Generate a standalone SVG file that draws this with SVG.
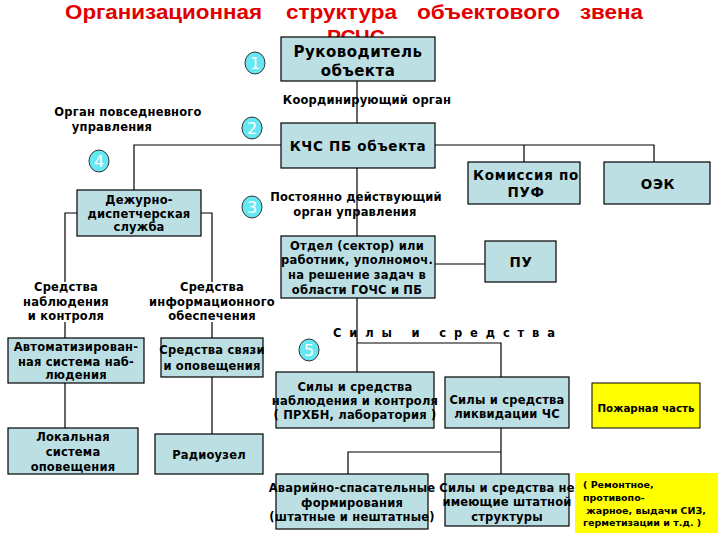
<svg xmlns="http://www.w3.org/2000/svg" width="720" height="540" viewBox="0 0 720 540">
<style>
.bx{fill:#bbdfe3;stroke:#000;stroke-width:1.2}
.yb{fill:#ffff00;stroke:#000;stroke-width:1}
.t{font-family:"DejaVu Sans",Verdana,sans-serif;font-weight:bold;font-size:11.5px;letter-spacing:0.2px;fill:#000;text-anchor:middle}
.big{font-size:15px;letter-spacing:0.5px}
.mid{font-size:13.5px;letter-spacing:0.7px}
.ln{fill:none;stroke:#000;stroke-width:1.2}
.c{fill:#66e8f2;stroke:#333;stroke-width:1}
.n{font-family:"DejaVu Sans",sans-serif;font-size:16px;fill:#fff;text-anchor:middle}
.title{font-family:"Liberation Sans",Arial,sans-serif;font-weight:bold;font-size:21px;fill:#e00000}
.sm{font-family:"DejaVu Sans",Tahoma,sans-serif;font-weight:bold;font-size:9.5px;fill:#000}
</style>
<rect width="720" height="540" fill="#fff"/>
<g id="title">
<text class="title" x="65" y="19" textLength="197" lengthAdjust="spacingAndGlyphs">Организационная</text>
<text class="title" x="286" y="19" textLength="111" lengthAdjust="spacingAndGlyphs">структура</text>
<text class="title" x="417" y="19" textLength="143" lengthAdjust="spacingAndGlyphs">объектового</text>
<text class="title" x="580" y="19" textLength="63" lengthAdjust="spacingAndGlyphs">звена</text>
<text class="title" x="356" y="44" text-anchor="middle">РСЧС</text>
</g>
<g id="connectors">
<path class="ln" d="M357 81V123"/>
<path class="ln" d="M281 145H134V190"/>
<path class="ln" d="M435 145H654V162M524 145V162"/>
<path class="ln" d="M357 168V236"/>
<path class="ln" d="M77 213H65V282M65 322V338"/>
<path class="ln" d="M201 213H212V282M212 322V338"/>
<path class="ln" d="M65 383V428"/>
<path class="ln" d="M212 377V434"/>
<path class="ln" d="M435 264H485"/>
<path class="ln" d="M357 298V343H501V377M357 343V372"/>
<path class="ln" d="M501 428V452H348V474M501 452V474"/>
</g>
<g id="labels">
<text class="t" x="367" y="104">Координирующий орган</text>
<text class="t" x="128" y="116">Орган повседневного</text>
<text class="t" x="112" y="131">управления</text>
<text class="t" x="356" y="201">Постоянно действующий</text>
<text class="t" x="355" y="216">орган управления</text>
<text class="t" x="66" y="291">Средства</text>
<text class="t" x="66" y="306">наблюдения</text>
<text class="t" x="66" y="320">и контроля</text>
<text class="t" x="212" y="291">Средства</text>
<text class="t" x="212" y="306">информационного</text>
<text class="t" x="212" y="320">обеспечения</text>
<text class="t" x="333" y="337" style="text-anchor:start;letter-spacing:0" xml:space="preserve" textLength="222" lengthAdjust="spacing">С и л ы   и   с р е д с т в а</text>
</g>
<g id="n1"><rect class="bx" x="281" y="37" width="154" height="44"/><text class="t big" x="358" y="57">Руководитель</text><text class="t big" x="358" y="76">объекта</text></g>
<g id="n2"><rect class="bx" x="281" y="123" width="154" height="45"/><text class="t mid" x="358" y="151">КЧС ПБ объекта</text></g>
<g id="n3"><rect class="bx" x="468" y="162" width="112" height="42"/><text class="t mid" x="526" y="180">Комиссия по</text><text class="t mid" x="526" y="197">ПУФ</text></g>
<g id="n4"><rect class="bx" x="604" y="162" width="106" height="42"/><text class="t mid" x="658" y="189">ОЭК</text></g>
<g id="n5"><rect class="bx" x="77" y="190" width="124" height="46"/><text class="t" x="139" y="204">Дежурно-</text><text class="t" x="139" y="218">диспетчерская</text><text class="t" x="139" y="231">служба</text></g>
<g id="n6"><rect class="bx" x="281" y="236" width="154" height="62"/><text class="t" x="357" y="250">Отдел (сектор) или</text><text class="t" x="357" y="264">работник, уполномоч.</text><text class="t" x="357" y="279">на решение задач в</text><text class="t" x="357" y="294">области ГОЧС и ПБ</text></g>
<g id="n7"><rect class="bx" x="485" y="241" width="71" height="41"/><text class="t mid" x="521" y="267">ПУ</text></g>
<g id="n8"><rect class="bx" x="8" y="338" width="136" height="45"/><text class="t" x="76" y="351">Автоматизирован-</text><text class="t" x="76" y="366">ная система наб-</text><text class="t" x="76" y="379">людения</text></g>
<g id="n9"><rect class="bx" x="161" y="338" width="102" height="39"/><text class="t" x="212" y="354">Средства связи</text><text class="t" x="212" y="370">и оповещения</text></g>
<g id="n10"><rect class="bx" x="8" y="428" width="130" height="46"/><text class="t" x="73" y="441">Локальная</text><text class="t" x="73" y="456">система</text><text class="t" x="73" y="471">оповещения</text></g>
<g id="n11"><rect class="bx" x="155" y="434" width="108" height="40"/><text class="t" x="209" y="459">Радиоузел</text></g>
<g id="n12"><rect class="bx" x="276" y="372" width="158" height="56"/><text class="t" x="355" y="391">Силы и средства</text><text class="t" x="355" y="405">наблюдения и контроля</text><text class="t" x="355" y="419">( ПРХБН, лаборатория )</text></g>
<g id="n13"><rect class="bx" x="445" y="377" width="124" height="51"/><text class="t" x="507" y="404">Силы и средства</text><text class="t" x="507" y="418">ликвидации ЧС</text></g>
<g id="n14"><rect class="yb" x="592" y="383" width="108" height="45"/><text class="t" x="646" y="412" style="font-size:10.3px;letter-spacing:0">Пожарная часть</text></g>
<g id="n15"><rect class="bx" x="276" y="474" width="152" height="55"/><text class="t" x="352" y="492">Аварийно-спасательные</text><text class="t" x="352" y="507">формирования</text><text class="t" x="352" y="521">(штатные и нештатные)</text></g>
<g id="n16"><rect class="bx" x="445" y="474" width="124" height="52"/><text class="t" x="507" y="492">Силы и средства не</text><text class="t" x="507" y="506">имеющие штатной</text><text class="t" x="507" y="521">структуры</text></g>
<g id="n17"><rect x="575" y="473" width="143" height="60" fill="#ffff00"/><text class="sm" x="583" y="488">( Ремонтное,</text><text class="sm" x="583" y="501">противопо-</text><text class="sm" x="583" y="514" xml:space="preserve"> жарное, выдачи СИЗ,</text><text class="sm" x="583" y="526">герметизации и т.д. )</text></g>
<g id="badges">
<ellipse class="c" cx="255" cy="63" rx="10" ry="11"/><text class="n" x="255" y="69">1</text>
<ellipse class="c" cx="252" cy="128" rx="10" ry="11"/><text class="n" x="252" y="134">2</text>
<ellipse class="c" cx="252" cy="207" rx="10" ry="11"/><text class="n" x="252" y="213">3</text>
<ellipse class="c" cx="99" cy="161" rx="10" ry="11"/><text class="n" x="99" y="167">4</text>
<ellipse class="c" cx="309" cy="350" rx="10" ry="11"/><text class="n" x="309" y="356">5</text>
</g>
</svg>
